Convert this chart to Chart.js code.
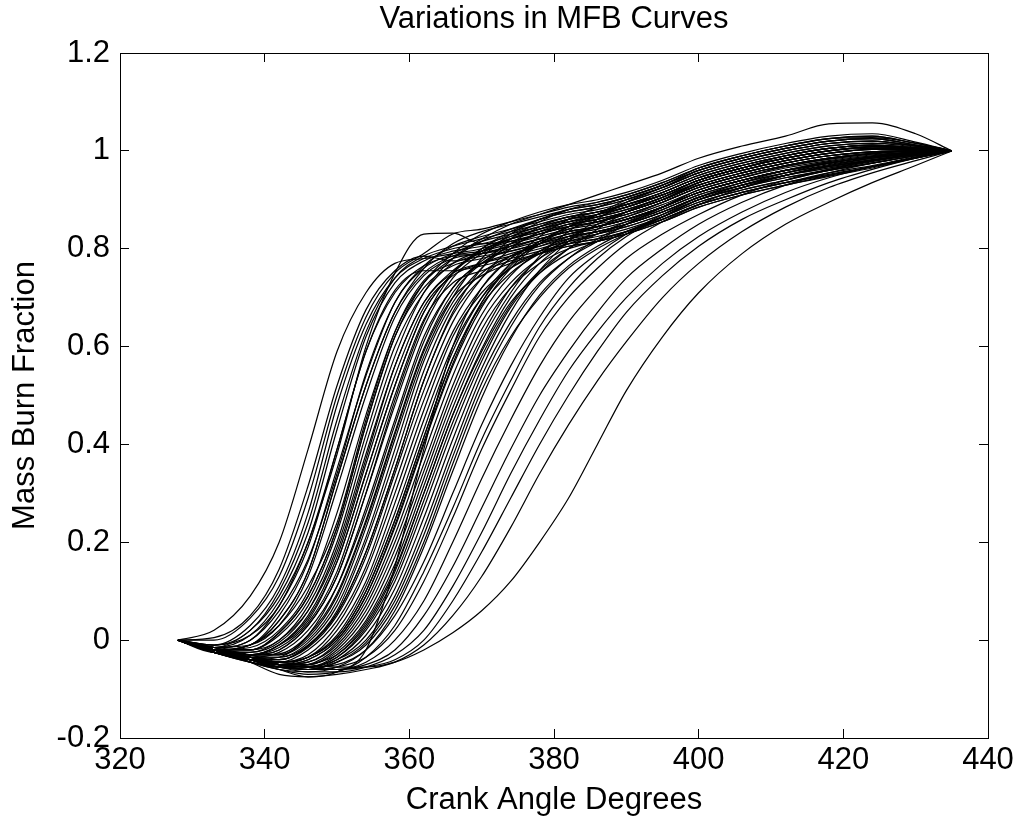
<!DOCTYPE html>
<html>
<head>
<meta charset="utf-8">
<title>Variations in MFB Curves</title>
<script src="https://cdn.jsdelivr.net/npm/chart.js@4.4.0/dist/chart.umd.min.js"></script>
<style>
  html, body { margin: 0; padding: 0; background: #fff; }
  #wrap { width: 1021px; height: 824px; }
</style>
</head>
<body>
<div id="wrap"><canvas id="mfbChart" width="1021" height="824"></canvas></div>
<script>
    "use strict";
    // crank angle samples (deg) shared by every cycle
    var crankAngle = [328, 333, 338, 342, 346, 350, 354, 358, 362, 366, 370, 374, 378, 382, 386, 390, 395, 400, 406, 412, 418, 424, 430, 435];

    // mass burn fraction per cycle
    var cycle01 = [0, 0.02, 0.09, 0.20, 0.39, 0.59, 0.71, 0.77, 0.78, 0.79, 0.80, 0.82, 0.84, 0.86, 0.875, 0.89, 0.91, 0.94, 0.965, 0.985, 1.0, 1.005, 1.005, 1.0];
    var cycle02 = [0, 0.005, 0.05, 0.145, 0.315, 0.52, 0.675, 0.755, 0.785, 0.775, 0.785, 0.795, 0.81, 0.825, 0.835, 0.85, 0.875, 0.905, 0.93, 0.95, 0.968, 0.98, 0.993, 1.0];
    var cycle03 = [0, -0.01, 0.03, 0.11, 0.26, 0.48, 0.645, 0.74, 0.78, 0.80, 0.81, 0.825, 0.84, 0.855, 0.865, 0.88, 0.905, 0.935, 0.96, 0.98, 0.995, 1.003, 1.003, 1.0];
    var cycle04 = [0, -0.01, 0.01, 0.07, 0.2, 0.38, 0.6, 0.75, 0.83, 0.832, 0.81, 0.815, 0.83, 0.85, 0.87, 0.89, 0.915, 0.945, 0.97, 0.99, 1.005, 1.01, 1.005, 1.0];
    var cycle05 = [0, -0.015, 0.02, 0.09, 0.22, 0.43, 0.62, 0.73, 0.775, 0.795, 0.805, 0.82, 0.835, 0.85, 0.86, 0.875, 0.9, 0.93, 0.955, 0.975, 0.99, 0.998, 1.0, 1.0];
    var cycle06 = [0, -0.015, 0.0, 0.07, 0.19, 0.39, 0.59, 0.71, 0.765, 0.785, 0.79, 0.805, 0.82, 0.835, 0.845, 0.86, 0.885, 0.915, 0.94, 0.96, 0.975, 0.988, 0.996, 1.0];
    var cycle07 = [0, -0.02, -0.01, 0.05, 0.16, 0.35, 0.54, 0.69, 0.76, 0.79, 0.815, 0.83, 0.845, 0.86, 0.87, 0.885, 0.91, 0.94, 0.965, 0.985, 1.0, 1.008, 1.004, 1.0];
    var cycle08 = [0, -0.015, -0.01, 0.03, 0.13, 0.31, 0.5, 0.66, 0.745, 0.78, 0.79, 0.8, 0.815, 0.83, 0.84, 0.855, 0.88, 0.91, 0.935, 0.955, 0.972, 0.985, 0.995, 1.0];
    var cycle09 = [0, -0.02, -0.015, 0.02, 0.1, 0.26, 0.46, 0.63, 0.73, 0.78, 0.815, 0.84, 0.86, 0.875, 0.885, 0.9, 0.925, 0.955, 0.98, 1.0, 1.015, 1.02, 1.01, 1.0];
    var cycle10 = [0, -0.02, -0.02, 0.01, 0.08, 0.22, 0.42, 0.6, 0.71, 0.77, 0.795, 0.815, 0.83, 0.845, 0.855, 0.87, 0.895, 0.925, 0.95, 0.97, 0.985, 0.995, 1.0, 1.0];
    var cycle11 = [0, -0.02, -0.025, -0.005, 0.06, 0.19, 0.38, 0.56, 0.69, 0.75, 0.77, 0.785, 0.8, 0.815, 0.825, 0.84, 0.865, 0.895, 0.92, 0.94, 0.96, 0.975, 0.99, 1.0];
    var cycle12 = [0, -0.025, -0.03, -0.01, 0.04, 0.16, 0.34, 0.52, 0.67, 0.75, 0.8, 0.83, 0.85, 0.865, 0.875, 0.89, 0.915, 0.945, 0.97, 0.99, 1.005, 1.012, 1.006, 1.0];
    var cycle13 = [0, -0.02, -0.03, -0.02, 0.03, 0.13, 0.3, 0.48, 0.64, 0.74, 0.79, 0.82, 0.84, 0.855, 0.865, 0.88, 0.905, 0.935, 0.96, 0.98, 0.995, 1.003, 1.003, 1.0];
    var cycle14 = [0, -0.025, -0.035, -0.025, 0.02, 0.11, 0.26, 0.44, 0.61, 0.72, 0.77, 0.8, 0.82, 0.835, 0.845, 0.86, 0.885, 0.915, 0.94, 0.96, 0.975, 0.988, 0.996, 1.0];
    var cycle15 = [0, -0.02, -0.03, -0.03, 0.0, 0.08, 0.23, 0.41, 0.58, 0.7, 0.78, 0.83, 0.86, 0.88, 0.89, 0.905, 0.93, 0.96, 0.985, 1.005, 1.02, 1.025, 1.012, 1.0];
    var cycle16 = [0, -0.02, -0.035, -0.035, -0.01, 0.06, 0.2, 0.37, 0.55, 0.68, 0.75, 0.785, 0.805, 0.825, 0.835, 0.85, 0.875, 0.905, 0.93, 0.95, 0.968, 0.98, 0.993, 1.0];
    var cycle17 = [0, -0.025, -0.04, -0.04, -0.015, 0.05, 0.17, 0.34, 0.51, 0.65, 0.74, 0.8, 0.835, 0.855, 0.87, 0.885, 0.91, 0.94, 0.965, 0.985, 1.0, 1.008, 1.004, 1.0];
    var cycle18 = [0, -0.02, -0.035, -0.045, -0.03, 0.03, 0.14, 0.3, 0.47, 0.62, 0.71, 0.76, 0.79, 0.81, 0.82, 0.835, 0.86, 0.89, 0.915, 0.935, 0.955, 0.97, 0.988, 1.0];
    var cycle19 = [0, -0.025, -0.04, -0.045, -0.035, 0.01, 0.11, 0.26, 0.43, 0.59, 0.7, 0.77, 0.81, 0.84, 0.855, 0.875, 0.9, 0.93, 0.955, 0.975, 0.99, 0.998, 1.0, 1.0];
    var cycle20 = [0, -0.02, -0.04, -0.05, -0.04, 0.0, 0.09, 0.23, 0.4, 0.56, 0.68, 0.76, 0.81, 0.845, 0.87, 0.895, 0.92, 0.95, 0.975, 0.995, 1.01, 1.016, 1.008, 1.0];
    var cycle21 = [0, -0.02, -0.035, -0.05, -0.045, -0.01, 0.07, 0.2, 0.36, 0.52, 0.65, 0.73, 0.78, 0.81, 0.83, 0.85, 0.88, 0.91, 0.935, 0.955, 0.97, 0.985, 0.995, 1.0];
    var cycle22 = [0, -0.025, -0.04, -0.05, -0.05, -0.02, 0.05, 0.17, 0.33, 0.49, 0.62, 0.72, 0.78, 0.82, 0.85, 0.875, 0.9, 0.935, 0.96, 0.98, 0.995, 1.003, 1.003, 1.0];
    var cycle23 = [0, -0.02, -0.04, -0.055, -0.05, -0.03, 0.03, 0.14, 0.3, 0.46, 0.59, 0.69, 0.75, 0.79, 0.815, 0.835, 0.865, 0.895, 0.92, 0.94, 0.96, 0.975, 0.99, 1.0];
    var cycle24 = [0, -0.02, -0.035, -0.05, -0.055, -0.035, 0.02, 0.12, 0.27, 0.43, 0.57, 0.68, 0.75, 0.8, 0.84, 0.875, 0.905, 0.94, 0.965, 0.99, 1.005, 1.012, 1.006, 1.0];
    var cycle25 = [0, -0.025, -0.04, -0.05, -0.055, -0.04, 0.0, 0.09, 0.23, 0.39, 0.54, 0.65, 0.73, 0.78, 0.815, 0.85, 0.885, 0.92, 0.945, 0.968, 0.983, 0.994, 1.0, 1.0];
    var cycle26 = [0, -0.02, -0.04, -0.055, -0.06, -0.045, -0.01, 0.07, 0.2, 0.36, 0.51, 0.62, 0.7, 0.76, 0.8, 0.83, 0.865, 0.9, 0.925, 0.95, 0.968, 0.982, 0.994, 1.0];
    var cycle27 = [0, -0.02, -0.04, -0.05, -0.055, -0.05, -0.02, 0.05, 0.16, 0.3, 0.44, 0.56, 0.66, 0.74, 0.79, 0.83, 0.87, 0.905, 0.935, 0.96, 0.978, 0.99, 0.998, 1.0];
    var cycle28 = [0, -0.02, -0.04, -0.055, -0.06, -0.055, -0.035, 0.02, 0.12, 0.25, 0.39, 0.51, 0.62, 0.7, 0.76, 0.81, 0.855, 0.89, 0.925, 0.95, 0.97, 0.985, 0.995, 1.0];
    var cycle29 = [0, -0.02, -0.035, -0.05, -0.06, -0.06, -0.045, 0.0, 0.08, 0.2, 0.33, 0.45, 0.56, 0.65, 0.72, 0.78, 0.83, 0.87, 0.91, 0.94, 0.962, 0.98, 0.993, 1.0];
    var cycle30 = [0, -0.02, -0.04, -0.05, -0.055, -0.06, -0.05, -0.02, 0.05, 0.15, 0.27, 0.39, 0.5, 0.59, 0.67, 0.74, 0.8, 0.85, 0.895, 0.93, 0.955, 0.975, 0.99, 1.0];
    var cycle31 = [0, -0.02, -0.04, -0.055, -0.065, -0.065, -0.055, -0.03, 0.02, 0.11, 0.22, 0.34, 0.45, 0.55, 0.63, 0.7, 0.77, 0.825, 0.875, 0.915, 0.945, 0.968, 0.987, 1.0];
    var cycle32 = [0, -0.015, -0.035, -0.05, -0.06, -0.06, -0.055, -0.04, 0.0, 0.08, 0.18, 0.29, 0.4, 0.5, 0.59, 0.67, 0.745, 0.805, 0.86, 0.9, 0.935, 0.962, 0.985, 1.0];
    var cycle33 = [0, -0.02, -0.04, -0.06, -0.075, -0.07, -0.06, -0.045, -0.01, 0.05, 0.13, 0.23, 0.34, 0.44, 0.53, 0.61, 0.7, 0.77, 0.835, 0.885, 0.925, 0.955, 0.98, 1.0];
    var cycle34 = [0, -0.015, -0.03, -0.045, -0.05, -0.055, -0.055, -0.045, -0.02, 0.015, 0.06, 0.12, 0.2, 0.29, 0.4, 0.51, 0.62, 0.71, 0.79, 0.85, 0.895, 0.935, 0.97, 1.0];
    var cycle35 = [0, -0.02, -0.02, 0.0, 0.07, 0.2, 0.4, 0.58, 0.71, 0.78, 0.82, 0.85, 0.87, 0.89, 0.91, 0.93, 0.955, 0.985, 1.01, 1.03, 1.055, 1.057, 1.035, 1.0];
    var cycle36 = [0, -0.01, 0.02, 0.1, 0.24, 0.45, 0.63, 0.74, 0.785, 0.805, 0.82, 0.835, 0.85, 0.865, 0.875, 0.89, 0.915, 0.945, 0.97, 0.99, 1.005, 1.012, 1.006, 1.0];
    var cycle37 = [0, -0.02, -0.01, 0.04, 0.14, 0.33, 0.52, 0.67, 0.75, 0.785, 0.795, 0.81, 0.825, 0.84, 0.85, 0.865, 0.89, 0.92, 0.945, 0.965, 0.98, 0.992, 0.998, 1.0];
    var cycle38 = [0, -0.02, -0.03, -0.015, 0.035, 0.14, 0.32, 0.5, 0.655, 0.73, 0.755, 0.775, 0.79, 0.805, 0.815, 0.83, 0.855, 0.885, 0.91, 0.93, 0.95, 0.968, 0.985, 1.0];
    var cycle39 = [0, -0.025, -0.035, -0.04, -0.012, 0.055, 0.18, 0.35, 0.53, 0.67, 0.76, 0.82, 0.855, 0.88, 0.895, 0.91, 0.935, 0.965, 0.99, 1.01, 1.025, 1.03, 1.015, 1.0];
    var cycle40 = [0, -0.02, -0.04, -0.05, -0.035, 0.005, 0.1, 0.245, 0.415, 0.575, 0.685, 0.75, 0.79, 0.815, 0.83, 0.845, 0.87, 0.9, 0.925, 0.945, 0.962, 0.978, 0.992, 1.0];
    var cycle41 = [0, -0.02, -0.035, -0.05, -0.05, -0.025, 0.04, 0.155, 0.315, 0.475, 0.61, 0.71, 0.785, 0.835, 0.87, 0.9, 0.925, 0.955, 0.98, 1.0, 1.015, 1.02, 1.01, 1.0];
    var cycle42 = [0, -0.02, -0.03, -0.028, 0.01, 0.095, 0.245, 0.425, 0.595, 0.71, 0.77, 0.805, 0.83, 0.845, 0.855, 0.87, 0.895, 0.925, 0.95, 0.97, 0.985, 0.995, 1.0, 1.0];
    var cycle43 = [0, -0.02, -0.045, -0.06, -0.07, -0.065, -0.035, 0.03, 0.14, 0.27, 0.41, 0.53, 0.64, 0.72, 0.78, 0.825, 0.865, 0.9, 0.93, 0.955, 0.975, 0.988, 0.997, 1.0];
    var cycle44 = [0, -0.015, -0.045, -0.07, -0.075, -0.065, -0.02, 0.15, 0.39, 0.6, 0.72, 0.78, 0.81, 0.83, 0.845, 0.86, 0.885, 0.915, 0.94, 0.96, 0.978, 0.99, 0.998, 1.0];
    var cycle45 = [0, 0.0, 0.045, 0.13, 0.29, 0.5, 0.66, 0.75, 0.79, 0.83, 0.84, 0.855, 0.87, 0.885, 0.895, 0.91, 0.935, 0.965, 0.99, 1.01, 1.025, 1.027, 1.016, 1.0];
    var cycle46 = [0, -0.015, 0.01, 0.08, 0.2, 0.39, 0.59, 0.715, 0.755, 0.755, 0.765, 0.78, 0.795, 0.81, 0.82, 0.835, 0.86, 0.89, 0.915, 0.935, 0.95, 0.967, 0.986, 1.0];
    var cycle47 = [0, -0.015, 0.0, 0.06, 0.165, 0.34, 0.545, 0.69, 0.765, 0.805, 0.825, 0.84, 0.855, 0.87, 0.88, 0.895, 0.92, 0.95, 0.975, 0.995, 1.01, 1.015, 1.01, 1.0];
    var cycle48 = [0, -0.02, -0.01, 0.03, 0.11, 0.24, 0.45, 0.63, 0.735, 0.77, 0.79, 0.805, 0.82, 0.835, 0.845, 0.86, 0.885, 0.915, 0.94, 0.96, 0.975, 0.987, 0.996, 1.0];
    var cycle49 = [0, -0.02, -0.02, 0.015, 0.09, 0.23, 0.44, 0.62, 0.73, 0.79, 0.83, 0.855, 0.875, 0.89, 0.9, 0.915, 0.94, 0.97, 0.995, 1.015, 1.03, 1.035, 1.018, 1.0];
    var cycle50 = [0, -0.025, -0.025, 0.0, 0.06, 0.18, 0.37, 0.56, 0.69, 0.755, 0.795, 0.82, 0.835, 0.85, 0.86, 0.875, 0.9, 0.93, 0.955, 0.975, 0.99, 0.998, 1.0, 1.0];
    var cycle51 = [0, -0.02, -0.03, -0.01, 0.05, 0.17, 0.36, 0.54, 0.68, 0.745, 0.77, 0.79, 0.805, 0.82, 0.83, 0.845, 0.87, 0.9, 0.925, 0.945, 0.96, 0.975, 0.99, 1.0];
    var cycle52 = [0, -0.02, -0.03, -0.02, 0.03, 0.13, 0.3, 0.49, 0.65, 0.75, 0.8, 0.835, 0.86, 0.875, 0.885, 0.9, 0.925, 0.955, 0.98, 1.0, 1.015, 1.02, 1.01, 1.0];
    var cycle53 = [0, -0.025, -0.04, -0.035, 0.01, 0.11, 0.27, 0.45, 0.62, 0.72, 0.775, 0.81, 0.83, 0.845, 0.855, 0.87, 0.895, 0.925, 0.95, 0.97, 0.985, 0.995, 1.0, 1.0];
    var cycle54 = [0, -0.02, -0.03, -0.03, 0.005, 0.09, 0.24, 0.42, 0.59, 0.7, 0.745, 0.77, 0.79, 0.805, 0.815, 0.83, 0.855, 0.885, 0.91, 0.93, 0.948, 0.965, 0.985, 1.0];
    var cycle55 = [0, -0.025, -0.035, -0.035, -0.005, 0.07, 0.21, 0.39, 0.57, 0.69, 0.76, 0.81, 0.845, 0.865, 0.875, 0.89, 0.915, 0.945, 0.97, 0.99, 1.005, 1.012, 1.006, 1.0];
    var cycle56 = [0, -0.02, -0.035, -0.045, -0.02, 0.04, 0.15, 0.32, 0.49, 0.63, 0.72, 0.78, 0.815, 0.845, 0.86, 0.875, 0.9, 0.93, 0.955, 0.975, 0.99, 0.998, 1.0, 1.0];
    var cycle57 = [0, -0.025, -0.04, -0.045, -0.035, 0.02, 0.12, 0.28, 0.45, 0.6, 0.7, 0.76, 0.795, 0.82, 0.835, 0.85, 0.875, 0.905, 0.93, 0.95, 0.965, 0.98, 0.992, 1.0];
    var cycle58 = [0, -0.02, -0.04, -0.05, -0.04, 0.0, 0.09, 0.235, 0.405, 0.565, 0.69, 0.77, 0.825, 0.86, 0.885, 0.905, 0.93, 0.965, 0.99, 1.01, 1.025, 1.03, 1.015, 1.0];
    var cycle59 = [0, -0.02, -0.04, -0.05, -0.045, -0.005, 0.08, 0.215, 0.38, 0.54, 0.665, 0.745, 0.795, 0.825, 0.845, 0.865, 0.895, 0.925, 0.95, 0.97, 0.985, 0.995, 1.0, 1.0];
    var cycle60 = [0, -0.025, -0.045, -0.055, -0.05, -0.015, 0.06, 0.185, 0.345, 0.505, 0.635, 0.72, 0.77, 0.8, 0.815, 0.83, 0.86, 0.89, 0.915, 0.935, 0.952, 0.968, 0.986, 1.0];
    var cycle61 = [0, -0.02, -0.04, -0.05, -0.055, -0.03, 0.035, 0.145, 0.3, 0.46, 0.595, 0.7, 0.77, 0.815, 0.85, 0.875, 0.9, 0.935, 0.96, 0.98, 0.995, 1.003, 1.003, 1.0];
    var cycle62 = [0, -0.025, -0.04, -0.055, -0.055, -0.035, 0.025, 0.13, 0.285, 0.445, 0.58, 0.685, 0.755, 0.8, 0.83, 0.855, 0.885, 0.915, 0.94, 0.96, 0.975, 0.988, 0.996, 1.0];
    var cycle63 = [0, -0.02, -0.04, -0.05, -0.06, -0.04, 0.01, 0.105, 0.25, 0.41, 0.555, 0.67, 0.755, 0.815, 0.86, 0.895, 0.925, 0.96, 0.985, 1.005, 1.02, 1.025, 1.012, 1.0];
    var cycle64 = [0, -0.025, -0.045, -0.055, -0.06, -0.045, -0.005, 0.08, 0.215, 0.375, 0.525, 0.64, 0.725, 0.78, 0.82, 0.85, 0.885, 0.92, 0.945, 0.968, 0.983, 0.994, 1.0, 1.0];
    var cycle65 = [0, -0.02, -0.045, -0.06, -0.065, -0.055, -0.02, 0.06, 0.19, 0.345, 0.495, 0.615, 0.705, 0.765, 0.805, 0.835, 0.865, 0.9, 0.925, 0.95, 0.968, 0.982, 0.994, 1.0];
    var cycle66 = [0, -0.015, -0.02, 0.015, 0.09, 0.23, 0.44, 0.62, 0.72, 0.765, 0.78, 0.795, 0.81, 0.825, 0.835, 0.85, 0.875, 0.905, 0.93, 0.95, 0.965, 0.979, 0.992, 1.0];
    var cycle67 = [0, -0.02, -0.03, -0.01, 0.045, 0.16, 0.34, 0.52, 0.67, 0.75, 0.795, 0.825, 0.845, 0.86, 0.87, 0.885, 0.91, 0.94, 0.965, 0.985, 1.0, 1.008, 1.005, 1.0];
    var cycle68 = [0, -0.02, -0.035, -0.04, -0.012, 0.055, 0.18, 0.35, 0.53, 0.665, 0.74, 0.785, 0.81, 0.83, 0.845, 0.86, 0.885, 0.915, 0.94, 0.96, 0.975, 0.988, 0.996, 1.0];
    var cycle69 = [0, -0.02, -0.01, 0.04, 0.14, 0.33, 0.52, 0.67, 0.76, 0.81, 0.835, 0.85, 0.865, 0.88, 0.89, 0.905, 0.93, 0.96, 0.985, 1.005, 1.02, 1.025, 1.012, 1.0];
    var cycle70 = [0, -0.02, -0.035, -0.045, -0.035, 0.005, 0.1, 0.245, 0.415, 0.575, 0.69, 0.765, 0.815, 0.845, 0.865, 0.885, 0.91, 0.94, 0.965, 0.985, 1.0, 1.008, 1.005, 1.0];

    var mfbCycles = [cycle01, cycle02, cycle03, cycle04, cycle05, cycle06, cycle07, cycle08, cycle09, cycle10,
        cycle11, cycle12, cycle13, cycle14, cycle15, cycle16, cycle17, cycle18, cycle19, cycle20,
        cycle21, cycle22, cycle23, cycle24, cycle25, cycle26, cycle27, cycle28, cycle29, cycle30,
        cycle31, cycle32, cycle33, cycle34, cycle35, cycle36, cycle37, cycle38, cycle39, cycle40,
        cycle41, cycle42, cycle43, cycle44, cycle45, cycle46, cycle47, cycle48, cycle49, cycle50,
        cycle51, cycle52, cycle53, cycle54, cycle55, cycle56, cycle57, cycle58, cycle59, cycle60,
        cycle61, cycle62, cycle63, cycle64, cycle65, cycle66, cycle67, cycle68, cycle69, cycle70];

    // axis ticks
    var xTicks = [320, 340, 360, 380, 400, 420, 440];
    var xTickLabels = ['320', '340', '360', '380', '400', '420', '440'];
    var yTicks = [-0.2, 0, 0.2, 0.4, 0.6, 0.8, 1, 1.2];
    var yTickLabels = ['-0.2', '0', '0.2', '0.4', '0.6', '0.8', '1', '1.2'];

    var fontFamily = '"Liberation Sans", Arial, Helvetica, sans-serif';
    var textFont = { family: fontFamily, size: 31, weight: 'normal', lineHeight: 1.2 };
    var inwardTicks = { drawOnChartArea: false, drawTicks: true, tickLength: -9, color: '#000', lineWidth: 1 };
    var boxBorder = { display: true, color: '#000', width: 1 };

    function setTicks(list) {
        return function (scale) {
            scale.ticks = list.map(function (v) { return { value: v }; });
        };
    }
    // fixed box sizes so the plot frame sits where the original one does
    function fixSize(prop, size) {
        return function (scale) {
            scale[prop] = size;
            scale.paddingLeft = 0;
            scale.paddingRight = 0;
            scale.paddingTop = 0;
            scale.paddingBottom = 0;
        };
    }

    var datasets = mfbCycles.map(function (ys) {
        return {
            data: ys.map(function (y, i) { return { x: crankAngle[i], y: y }; }),
            borderColor: '#000',
            borderWidth: 1.2,
            pointRadius: 0,
            fill: false,
            cubicInterpolationMode: 'monotone'
        };
    });

    var ctx = document.getElementById('mfbChart').getContext('2d');
    new Chart(ctx, {
        type: 'line',
        data: { datasets: datasets },
        options: {
            responsive: false,
            animation: false,
            devicePixelRatio: 1,
            layout: { padding: 0 },
            plugins: {
                legend: { display: false },
                tooltip: { enabled: false },
                title: { display: false }
            },
            scales: {
                x: {
                    type: 'linear', position: 'bottom', min: 320, max: 440,
                    afterBuildTicks: setTicks(xTicks),
                    ticks: {
                        color: '#000', font: textFont, padding: 13, maxRotation: 0, autoSkip: false,
                        callback: function (v, i) { return xTickLabels[i]; }
                    },
                    grid: inwardTicks,
                    border: boxBorder,
                    title: { display: true, text: 'Crank Angle Degrees', color: '#000', font: textFont, padding: { top: 0, bottom: 5 } },
                    afterFit: fixSize('height', 86)
                },
                x2: {
                    type: 'linear', position: 'top', min: 320, max: 440,
                    afterBuildTicks: setTicks(xTicks),
                    ticks: { display: false },
                    grid: inwardTicks,
                    border: boxBorder,
                    title: { display: true, text: 'Variations in MFB Curves', color: '#000', font: textFont, padding: { top: 1, bottom: 0 } },
                    afterFit: fixSize('height', 53)
                },
                y: {
                    type: 'linear', position: 'left', min: -0.2, max: 1.2,
                    afterBuildTicks: setTicks(yTicks),
                    ticks: {
                        color: '#000', font: textFont, padding: 19,
                        callback: function (v, i) { return yTickLabels[i]; }
                    },
                    grid: inwardTicks,
                    border: boxBorder,
                    title: { display: true, text: 'Mass Burn Fraction', color: '#000', font: textFont, padding: { top: 7, bottom: 0 } },
                    afterFit: fixSize('width', 120)
                },
                y2: {
                    type: 'linear', position: 'right', min: -0.2, max: 1.2,
                    afterBuildTicks: setTicks(yTicks),
                    ticks: { display: false },
                    grid: inwardTicks,
                    border: boxBorder,
                    afterFit: fixSize('width', 33)
                }
            }
        }
    });
</script>
</body>
</html>
